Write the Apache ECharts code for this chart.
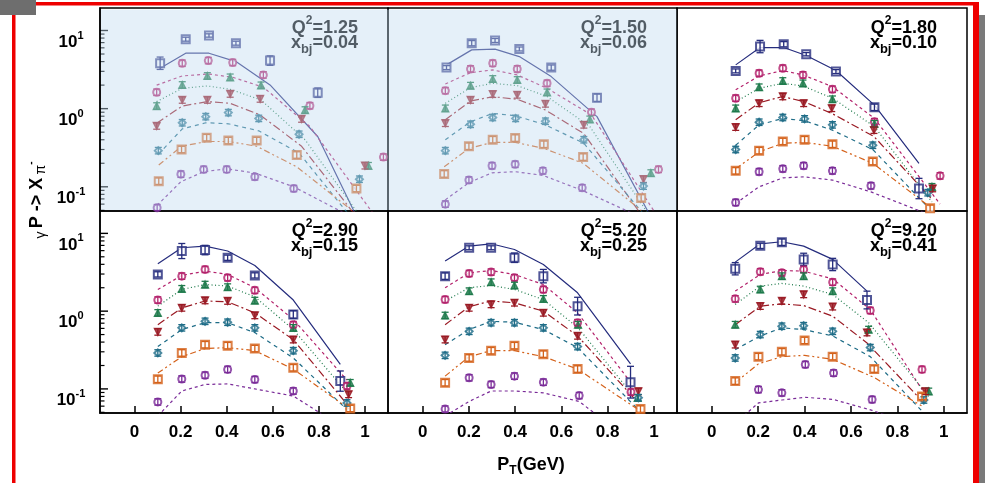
<!DOCTYPE html>
<html><head><meta charset="utf-8">
<script src="https://cdn.jsdelivr.net/npm/echarts@6/dist/echarts.min.js"></script>
<style>html,body{margin:0;padding:0;background:#fff}#c{width:985px;height:483px}</style>
</head><body><div id="c"></div>
<script>
// ---------------- data ----------------
const q2Labels = ['1.25', '1.50', '1.80', '2.90', '5.20', '9.20'];
const xbjLabels = ['0.04', '0.06', '0.10', '0.15', '0.25', '0.41'];
const xTickValues = [0, 0.2, 0.4, 0.6, 0.8, 1];
const yMajorTicks = [0.1, 1, 10];
const yMinorTicks = [0.05, 0.06, 0.07, 0.08, 0.09, 0.2, 0.3, 0.4, 0.5, 0.6, 0.7, 0.8, 0.9, 2, 3, 4, 5, 6, 7, 8, 9];
const seriesNames = ['set 1', 'set 2', 'set 3', 'set 4', 'set 5', 'set 6', 'set 7'];

// panel 1: Q2=1.25
const p1_x = [
  [0.111, 0.222, 0.323, 0.44, 0.588, 0.795, 1.0],
  [0.096, 0.207, 0.32, 0.426, 0.559, 0.761, 1.08],
  [0.096, 0.207, 0.316, 0.415, 0.549, 0.74, 1.015],
  [0.096, 0.207, 0.316, 0.415, 0.545, 0.725, 1.0],
  [0.103, 0.207, 0.309, 0.407, 0.539, 0.714, 0.976],
  [0.105, 0.204, 0.313, 0.407, 0.53, 0.704, 0.963],
  [0.098, 0.201, 0.30, 0.40, 0.522, 0.691, 0.95]];
const p1_pts = [
  [3.81, 7.74, 8.63, 6.88, 4.12, 1.6, null],
  [1.62, 3.81, 4.12, 3.89, 2.7, 1.09, 0.24],
  [1.08, 2.01, 2.62, 2.52, 1.99, 0.96, 0.186],
  [0.60, 1.29, 1.29, 1.54, 1.33, 0.737, 0.186],
  [0.29, 0.66, 0.79, 0.89, 0.75, 0.47, 0.125],
  [0.118, 0.30, 0.425, 0.39, 0.39, 0.255, 0.095],
  [0.054, 0.145, 0.167, 0.167, 0.134, 0.095, null]];
const p1_fit = [
  [3.29, 5.12, 5.12, 4.0, 2.01, 0.44, 0.025],
  [2.0, 2.62, 2.78, 2.52, 1.88, 0.59, 0.03],
  [1.23, 1.82, 1.95, 1.77, 1.29, 0.40, 0.03],
  [0.65, 1.08, 1.23, 1.17, 0.83, 0.33, 0.03],
  [0.26, 0.55, 0.66, 0.64, 0.52, 0.27, 0.03],
  [0.19, 0.33, 0.38, 0.38, 0.33, 0.18, 0.045],
  [0.058, 0.116, 0.156, 0.17, 0.15, 0.10, 0.04]];
const p1_err = [0.2, 0.06, 0.05, 0.06, 0.15, 0.15, 0];

// panel 2: Q2=1.50
const p2_x = [
  [0.103, 0.212, 0.313, 0.418, 0.556, 0.754, 0.98],
  [0.098, 0.207, 0.303, 0.409, 0.538, 0.73, 1.02],
  [0.098, 0.207, 0.303, 0.409, 0.538, 0.723, 0.987],
  [0.098, 0.207, 0.303, 0.409, 0.531, 0.697, 0.955],
  [0.098, 0.207, 0.303, 0.402, 0.531, 0.697, 0.955],
  [0.093, 0.2, 0.303, 0.4, 0.524, 0.694, 0.945],
  [0.098, 0.2, 0.30, 0.40, 0.52, 0.69, 0.95]];
const p2_pts = [
  [3.35, 6.88, 7.45, 5.8, 3.35, 1.38, null],
  [1.70, 3.22, 3.81, 3.22, 2.11, 0.90, 0.167],
  [1.01, 1.97, 2.40, 2.33, 1.62, 0.73, 0.15],
  [0.65, 1.29, 1.53, 1.50, 1.15, 0.62, 0.125],
  [0.29, 0.63, 0.77, 0.75, 0.69, 0.40, 0.102],
  [0.146, 0.33, 0.40, 0.42, 0.35, 0.24, 0.072],
  [0.06, 0.122, 0.186, 0.194, 0.16, 0.097, null]];
const p2_fit = [
  [3.63, 5.65, 5.77, 4.64, 2.57, 0.79, 0.045],
  [2.07, 2.89, 3.13, 2.70, 1.82, 0.83, 0.04],
  [1.17, 1.86, 2.11, 1.97, 1.43, 0.59, 0.04],
  [0.72, 1.25, 1.42, 1.32, 0.96, 0.48, 0.04],
  [0.40, 0.68, 0.87, 0.81, 0.62, 0.36, 0.045],
  [0.18, 0.31, 0.37, 0.37, 0.31, 0.20, 0.05],
  [0.068, 0.113, 0.151, 0.156, 0.14, 0.09, 0.04]];
const p2_err = [0.06, 0.08, 0.06, 0.06, 0.08, 0.12, 0];

// panel 3: Q2=1.80
const p3_x = [
  [0.103, 0.208, 0.31, 0.407, 0.535, 0.701, 0.893],
  [0.103, 0.204, 0.306, 0.393, 0.52, 0.701, 0.984],
  [0.103, 0.204, 0.306, 0.393, 0.52, 0.701, 0.949],
  [0.103, 0.204, 0.306, 0.396, 0.517, 0.699, 0.952],
  [0.103, 0.204, 0.306, 0.40, 0.52, 0.694, 0.931],
  [0.103, 0.204, 0.306, 0.40, 0.52, 0.694, 0.941],
  [0.103, 0.204, 0.306, 0.396, 0.52, 0.686, 0.93]];
const p3_pts = [
  [3.04, 6.23, 6.67, 4.97, 2.98, 1.04, 0.095],
  [1.36, 2.84, 3.29, 2.7, 1.77, 0.68, 0.138],
  [1.01, 1.88, 2.26, 2.11, 1.32, 0.64, 0.1],
  [0.58, 1.17, 1.43, 1.17, 1.01, 0.53, 0.095],
  [0.30, 0.67, 0.77, 0.74, 0.62, 0.34, 0.084],
  [0.16, 0.29, 0.38, 0.40, 0.35, 0.21, 0.053],
  [0.063, 0.156, 0.17, 0.186, 0.16, 0.103, null]];
const p3_fit = [
  [3.63, 6.05, 6.05, 4.78, 3.07, 1.11, 0.2],
  [1.74, 2.62, 3.07, 2.70, 1.91, 0.75, 0.06],
  [1.23, 1.82, 2.11, 1.95, 1.36, 0.59, 0.064],
  [0.72, 1.19, 1.43, 1.23, 0.87, 0.44, 0.068],
  [0.34, 0.62, 0.75, 0.70, 0.53, 0.30, 0.055],
  [0.17, 0.28, 0.36, 0.37, 0.33, 0.20, 0.055],
  [0.061, 0.10, 0.13, 0.134, 0.122, 0.086, 0.045]];
const p3_err = [0.06, 0.2, 0.08, 0.05, 0.06, 0.1, 0.35];

// panel 4: Q2=2.90
const p4_x = [
  [0.101, 0.205, 0.306, 0.404, 0.522, 0.689, 0.893],
  [0.101, 0.205, 0.306, 0.404, 0.522, 0.689, 0.922],
  [0.101, 0.205, 0.306, 0.404, 0.522, 0.689, 0.936],
  [0.101, 0.205, 0.306, 0.404, 0.522, 0.689, 0.929],
  [0.101, 0.205, 0.306, 0.404, 0.522, 0.689, 0.922],
  [0.101, 0.205, 0.306, 0.404, 0.522, 0.689, 0.936],
  [0.101, 0.205, 0.306, 0.404, 0.522, 0.689, 0.81]];
const p4_pts = [
  [2.97, 5.93, 6.1, 4.86, 2.88, 0.905, 0.126],
  [1.39, 2.82, 3.44, 2.69, 1.85, 0.67, 0.109],
  [0.95, 1.94, 2.2, 2.04, 1.37, 0.61, 0.12],
  [0.54, 1.1, 1.37, 1.35, 0.88, 0.43, 0.085],
  [0.29, 0.61, 0.74, 0.72, 0.61, 0.31, 0.066],
  [0.133, 0.29, 0.37, 0.36, 0.33, 0.187, 0.056],
  [0.068, 0.134, 0.15, 0.178, 0.132, 0.094, null]];
const p4_fit = [
  [4.07, 6.53, 6.86, 5.93, 3.87, 1.39, 0.207],
  [1.90, 2.88, 3.27, 2.97, 2.0, 0.78, 0.13],
  [1.16, 1.9, 2.2, 2.1, 1.53, 0.58, 0.08],
  [0.67, 1.1, 1.35, 1.32, 0.95, 0.43, 0.06],
  [0.35, 0.58, 0.71, 0.71, 0.53, 0.25, 0.054],
  [0.16, 0.26, 0.33, 0.34, 0.31, 0.18, 0.054],
  [0.045, 0.094, 0.114, 0.116, 0.10, 0.081, 0.048]];
const p4_err = [0.08, 0.25, 0.15, 0.08, 0.08, 0.12, 0.35];

// panel 5: Q2=5.20
const p5_x = [
  [0.097, 0.201, 0.296, 0.397, 0.522, 0.67, 0.899],
  [0.097, 0.201, 0.296, 0.397, 0.522, 0.67, 0.901],
  [0.097, 0.201, 0.296, 0.397, 0.522, 0.672, 0.93],
  [0.097, 0.201, 0.296, 0.397, 0.522, 0.67, 0.933],
  [0.097, 0.201, 0.296, 0.397, 0.522, 0.67, 0.933],
  [0.097, 0.201, 0.296, 0.397, 0.522, 0.67, 0.942],
  [0.097, 0.201, 0.296, 0.397, 0.522, 0.677, 0.742]];
const p5_pts = [
  [2.82, 6.53, 6.53, 4.86, 2.82, 1.16, 0.122],
  [1.41, 3.05, 3.18, 2.69, 1.9, 0.71, 0.091],
  [0.88, 1.81, 2.36, 2.14, 1.44, 0.67, 0.077],
  [0.43, 1.1, 1.22, 1.28, 0.95, 0.48, 0.093],
  [0.27, 0.55, 0.71, 0.71, 0.61, 0.35, 0.077],
  [0.12, 0.25, 0.31, 0.36, 0.28, 0.18, 0.055],
  [0.055, 0.139, 0.114, 0.146, 0.122, 0.082, null]];
const p5_fit = [
  [4.4, 6.86, 7.35, 6.2, 3.98, 1.72, 0.21],
  [2.0, 3.11, 3.33, 2.96, 2.2, 0.95, 0.12],
  [1.35, 2.0, 2.14, 1.9, 1.41, 0.61, 0.07],
  [0.67, 1.14, 1.35, 1.28, 1.0, 0.48, 0.066],
  [0.37, 0.58, 0.74, 0.72, 0.58, 0.34, 0.054],
  [0.146, 0.26, 0.31, 0.31, 0.26, 0.18, 0.052],
  [0.045, 0.069, 0.094, 0.094, 0.089, 0.069, 0.049]];
const p5_err = [0.1, 0.06, 0.06, 0.15, 0.22, 0.3, 0.6];

// panel 6: Q2=9.20
const p6_x = [
  [0.101, 0.209, 0.302, 0.396, 0.521, 0.669],
  [0.101, 0.209, 0.302, 0.396, 0.521, 0.683, 0.906],
  [0.101, 0.209, 0.302, 0.396, 0.521, 0.676, 0.935],
  [0.101, 0.209, 0.302, 0.396, 0.521, 0.669, 0.921],
  [0.101, 0.209, 0.302, 0.396, 0.521, 0.683, 0.914],
  [0.101, 0.201, 0.302, 0.40, 0.521, 0.70, 0.906],
  [0.101, 0.201, 0.302, 0.403, 0.525, 0.691, 0.849]];
const p6_pts = [
  [3.51, 6.91, 7.7, 4.63, 3.98, 1.39],
  [1.44, 3.21, 3.11, 3.44, 2.36, 1.02, 0.178],
  [0.67, 1.9, 2.82, 2.82, 1.81, 0.58, 0.093],
  [0.37, 1.16, 1.35, 1.64, 1.14, 0.53, 0.093],
  [0.25, 0.5, 0.64, 0.65, 0.55, 0.34, 0.072],
  [0.126, 0.26, 0.30, 0.42, 0.26, 0.18, 0.08],
  [null, 0.098, 0.089, 0.206, 0.16, 0.073, null]];
const p6_fit = [
  [4.27, 7.35, 7.8, 6.86, 4.63, 1.81],
  [1.81, 2.96, 3.33, 3.27, 2.6, 1.05, 0.098],
  [1.22, 2.1, 2.27, 2.1, 1.64, 0.71, 0.08],
  [0.67, 1.16, 1.24, 1.18, 0.86, 0.39, 0.063],
  [0.32, 0.48, 0.61, 0.58, 0.48, 0.26, 0.049],
  [0.12, 0.21, 0.26, 0.27, 0.24, 0.14, 0.06],
  [0.036, 0.066, 0.072, 0.078, 0.073, 0.053, 0.036]];
const p6_err = [0.2, 0.08, 0.1, 0.2, 0.2, 0.3];

const defaultRelErr = 0.1;

// ---------------- styles / layout ----------------
const panels = [
  {x: p1_x, pts: p1_pts, fit: p1_fit, err: p1_err},
  {x: p2_x, pts: p2_pts, fit: p2_fit, err: p2_err},
  {x: p3_x, pts: p3_pts, fit: p3_fit, err: p3_err},
  {x: p4_x, pts: p4_pts, fit: p4_fit, err: p4_err},
  {x: p5_x, pts: p5_pts, fit: p5_fit, err: p5_err},
  {x: p6_x, pts: p6_pts, fit: p6_fit, err: p6_err}];
const colors = ['#252c7d', '#b3216b', '#1e7a4b', '#9a1a24', '#1e6c87', '#d4611a', '#7a2b98'];
const symbols = ['emptyRect', 'emptyCircle', 'triangle', 'triangle', 'emptyDiamond', 'emptyRect', 'emptyCircle'];
const symRot = [0, 0, 0, 180, 0, 0, 0];
const symSize = [8, 7, 7, 7, 7, 8, 7];
const dashes = ['solid', [3, 3], [1, 2.5], [8, 3, 2, 3], [4, 4], [6, 3, 2, 3, 2, 3], [3, 3]];
const colLeft = [100, 388, 677], colWidth = [288, 289, 290];
const rowTop = [8, 211], rowHeight = [203, 202];
const FONT = '"Liberation Sans", Arial, Helvetica, sans-serif';

const grid = [], xAxis = [], yAxis = [], series = [], graphic = [];
for (let i = 0; i < 6; i++) {
  const c = i % 3, r = Math.floor(i / 3);
  grid.push({left: colLeft[c], top: rowTop[r], width: colWidth[c], height: rowHeight[r],
    show: true, borderColor: '#000', borderWidth: 1.5, backgroundColor: 'rgba(0,0,0,0)'});
  xAxis.push({type: 'value', gridIndex: i, min: -0.15, max: 1.1, position: 'bottom',
    axisLine: {show: r === 1, onZero: false, lineStyle: {color: '#000', width: 1.5}}, splitLine: {show: false},
    axisTick: {show: r === 1, inside: true, length: 7, customValues: xTickValues, lineStyle: {color: '#000', width: 1.5}},
    axisLabel: {show: r === 1, customValues: xTickValues, margin: 11, fontSize: 17, lineHeight: 17,
      fontWeight: 'bold', color: '#000', fontFamily: FONT}});
}
function expLabel(v) {
  const e = Math.round(Math.log10(v));
  return '{b|10}{e|' + e + '}';
}
for (let i = 0; i < 6; i++) {
  const c = i % 3;
  yAxis.push({type: 'log', logBase: 10, gridIndex: i, min: 0.049, max: 19.4, position: 'left',
    axisLine: {show: c === 0, onZero: false, lineStyle: {color: '#000', width: 1.5}}, splitLine: {show: false},
    axisTick: {show: false},
    axisLabel: {show: c === 0, customValues: yMajorTicks, formatter: expLabel, align: 'center', margin: 29,
      padding: [23, 0, 0, 0],
      rich: {
        b: {fontSize: 17, fontWeight: 'bold', color: '#000', fontFamily: FONT, lineHeight: 24},
        e: {fontSize: 11, fontWeight: 'bold', color: '#000', fontFamily: FONT, lineHeight: 11, verticalAlign: 'top'}}}});
}

function makeErrRender(color) {
  return function (params, api) {
    const x = api.value(0), lo = api.value(2), hi = api.value(3);
    const t = api.coord([x, hi]), b = api.coord([x, lo]);
    const w = 3.5, st = {stroke: color, lineWidth: 1.3};
    return {type: 'group', children: [
      {type: 'line', shape: {x1: t[0], y1: t[1], x2: b[0], y2: b[1]}, style: st},
      {type: 'line', shape: {x1: t[0] - w, y1: t[1], x2: t[0] + w, y2: t[1]}, style: st},
      {type: 'line', shape: {x1: b[0] - w, y1: b[1], x2: b[0] + w, y2: b[1]}, style: st}]};
  };
}
// y-axis tick marks (major / minor), placed by the axis scale at the grid's left edge
function tickRender(params, api) {
  const y = api.coord([0, api.value(0)])[1];
  const x0 = params.coordSys.x;
  const len = api.value(1);
  return {type: 'line', shape: {x1: x0, y1: y, x2: x0 + len, y2: y},
    style: {stroke: '#000', lineWidth: len > 6 ? 1.4 : 1.2}};
}

panels.forEach((p, i) => {
  for (let s = 0; s < 7; s++) {
    const xs = p.x[s];
    const fitData = [], ptData = [], errData = [];
    xs.forEach((xv, k) => {
      if (k < p.fit[s].length && p.fit[s][k] != null) fitData.push([xv, p.fit[s][k]]);
      const yv = p.pts[s][k];
      if (k < p.pts[s].length && yv != null) {
        ptData.push([xv, yv]);
        const e = (s === 0 && p.err[k] != null) ? p.err[k] : defaultRelErr;
        errData.push([xv, yv, yv / (1 + e), yv * (1 + e)]);
      }
    });
    series.push({type: 'line', name: seriesNames[s], xAxisIndex: i, yAxisIndex: i, data: fitData,
      symbol: 'none', silent: true, z: 2, clip: true,
      lineStyle: {color: colors[s], width: 1.2, type: dashes[s]}});
    series.push({type: 'scatter', name: seriesNames[s], xAxisIndex: i, yAxisIndex: i, data: ptData,
      symbol: symbols[s], symbolSize: symSize[s], symbolRotate: symRot[s], z: 3,
      itemStyle: {color: colors[s], borderColor: colors[s], borderWidth: 1.3}});
    series.push({type: 'custom', name: seriesNames[s], xAxisIndex: i, yAxisIndex: i, data: errData,
      renderItem: makeErrRender(colors[s]), z: 4, clip: true, silent: true});
  }
  const c = i % 3, r = Math.floor(i / 3);
  if (c === 0) {
    const tickData = yMajorTicks.map(v => [v, 8]).concat(yMinorTicks.map(v => [v, 4.5]));
    series.push({type: 'custom', name: 'ticks', xAxisIndex: i, yAxisIndex: i, data: tickData,
      encode: {y: 0}, renderItem: tickRender, z: 5, silent: true, clip: false});
  }
  // panel labels
  const rx = colLeft[c] + colWidth[c] - 30, ty = rowTop[r];
  const richT = {
    q: {fontSize: 18, fontWeight: 'bold', fill: '#000', fontFamily: FONT, lineHeight: 26},
    sup: {fontSize: 12, fontWeight: 'bold', fill: '#000', fontFamily: FONT, lineHeight: 12, verticalAlign: 'top'},
    sub: {fontSize: 13, fontWeight: 'bold', fill: '#000', fontFamily: FONT, lineHeight: 13, verticalAlign: 'bottom'}};
  graphic.push({type: 'text', x: rx, y: ty + 7, z: 10,
    style: {text: '{q|Q}{sup|2}{q|=' + q2Labels[i] + '}', align: 'right', verticalAlign: 'top', rich: richT}});
  graphic.push({type: 'text', x: rx, y: ty + 22, z: 10,
    style: {text: '{q|x}{sub|bj}{q|=' + xbjLabels[i] + '}', align: 'right', verticalAlign: 'top', rich: richT}});
});

// axis titles
graphic.push({type: 'text', x: 37, y: 200, rotation: Math.PI / 2, z: 10,
  style: {text: '{g|γ} {b|P -> X} {g|π}{s|-}', align: 'center', verticalAlign: 'middle',
    rich: {
      g: {fontSize: 14, fill: '#000', fontFamily: FONT, lineHeight: 22, verticalAlign: 'bottom'},
      b: {fontSize: 18, fontWeight: 'bold', fill: '#000', fontFamily: FONT, lineHeight: 22},
      s: {fontSize: 10, fontWeight: 'bold', fill: '#000', fontFamily: FONT, lineHeight: 10, verticalAlign: 'top'}}}});
graphic.push({type: 'text', x: 531, y: 453, z: 10,
  style: {text: '{b|P}{s|T}{b|(GeV)}', align: 'center', verticalAlign: 'top',
    rich: {
      b: {fontSize: 18, fontWeight: 'bold', fill: '#000', fontFamily: FONT, lineHeight: 24},
      s: {fontSize: 12, fontWeight: 'bold', fill: '#000', fontFamily: FONT, lineHeight: 12, verticalAlign: 'bottom'}}}});

// faded highlight over first two panels
graphic.push({type: 'rect', z: 100, silent: true, shape: {x: 101, y: 9.5, width: 575.5, height: 200.5},
  style: {fill: 'rgba(192,219,240,0.42)'}});
// page frame decorations
graphic.push({type: 'rect', z: 200, shape: {x: 12, y: 2, width: 967, height: 3.5}, style: {fill: '#ee0000'}});
graphic.push({type: 'rect', z: 200, shape: {x: 12, y: 2, width: 3.5, height: 481}, style: {fill: '#ee0000'}});
graphic.push({type: 'rect', z: 200, shape: {x: 973, y: 2, width: 6, height: 481}, style: {fill: '#ee0000'}});
graphic.push({type: 'rect', z: 201, shape: {x: 979, y: 15, width: 6, height: 468}, style: {fill: '#7a7a7a'}});
graphic.push({type: 'rect', z: 201, shape: {x: 0, y: 0, width: 36, height: 15}, style: {fill: '#6e6e6e'}});

const chart = echarts.init(document.getElementById('c'), null, {renderer: 'canvas'});
chart.setOption({animation: false, grid, xAxis, yAxis, series, graphic});
</script></body></html>
